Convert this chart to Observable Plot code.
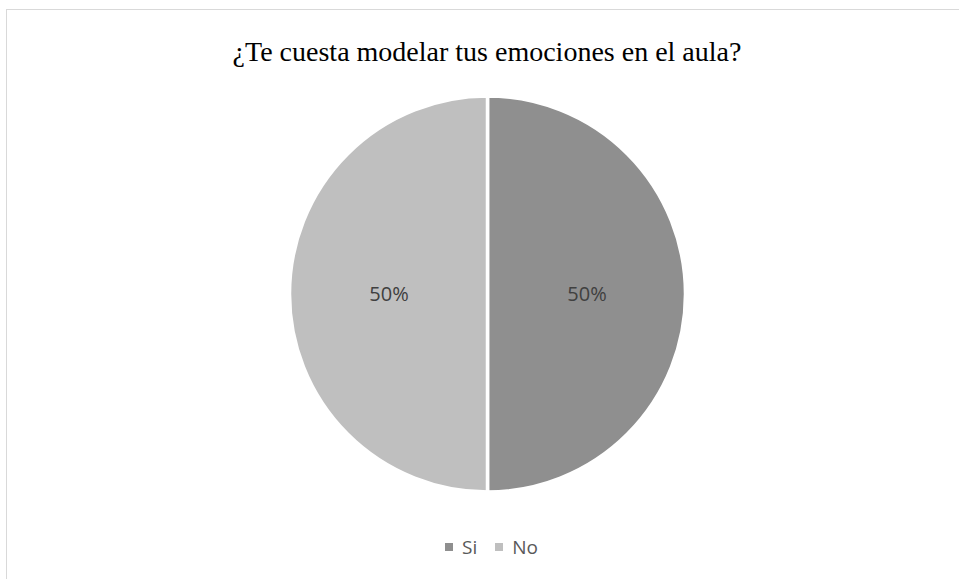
<!DOCTYPE html>
<html>
<head>
<meta charset="utf-8">
<script src="https://cdn.jsdelivr.net/npm/d3@7"></script>
<script src="https://cdn.jsdelivr.net/npm/@observablehq/plot@0.6"></script>
<style>
  html, body { margin: 0; padding: 0; background: #fff; }
  #wrap { position: relative; width: 959px; height: 579px; overflow: hidden; }
  #frame { position: absolute; left: 6px; top: 9px; width: 1000px; height: 1000px; border: 1px solid #d9d9d9; box-sizing: border-box; }
  #chart { position: absolute; left: 0; top: 0; }
  #legend { position: absolute; left: 12px; width: 959px; top: 531px; text-align: center; font-family: "Open Sans", sans-serif; font-size: 19px; color: #595959; }
  #legend .item { display: inline-flex; align-items: center; margin: 0 9px; }
  #legend .sw { display: inline-block; width: 8px; height: 8px; margin-right: 9px; }
</style>
</head>
<body>
<div id="wrap">
  <div id="frame"></div>
  <div id="chart"></div>
  <div id="legend"></div>
</div>
<script>
const title = "¿Te cuesta modelar tus emociones en el aula?";
const categories = ["Si", "No"];
const values = [50, 50];
const colors = ["#8f8f8f", "#bfbfbf"];

const total = d3.sum(values);
const arcs = d3.pie().sort(null).value(d => d.value)(categories.map((c, i) => ({category: c, value: values[i]})));
const labelArc = d3.arc().innerRadius(0).outerRadius(1);
const labels = arcs.map(a => {
  const [cx, cy] = labelArc.centroid(a);
  return {x: cx, y: -cy, text: Math.round(a.data.value / total * 100) + "%"};
});

const W = 959, H = 579, CX = 487.5, CY = 294, R = 198;

function pieMark(index, scales) {
  const x0 = scales.x(0), y0 = scales.y(0);
  const r = scales.x(1) - x0;
  const arc = d3.arc().innerRadius(0).outerRadius(r);
  const g = d3.create("svg:g").attr("transform", `translate(${x0},${y0})`);
  g.selectAll("path").data(arcs).join("path")
    .attr("d", arc)
    .attr("fill", (d, i) => colors[i])
    .attr("stroke", "#fff")
    .attr("stroke-width", 3.5)
    .attr("stroke-linejoin", "round");
  return g.node();
}

const plot = Plot.plot({
  width: W,
  height: H,
  margin: 0,
  x: {type: "linear", domain: [-1, 1], range: [CX - R, CX + R], axis: null},
  y: {type: "linear", domain: [-1, 1], range: [CY + R, CY - R], axis: null},
  style: {background: "transparent"},
  marks: [
    pieMark,
    Plot.text(labels, {x: "x", y: "y", text: "text", fill: "#404040", fontSize: 20, fontFamily: "Open Sans, sans-serif"}),
    Plot.text([title], {frameAnchor: "top", dx: 7, dy: 41, text: d => d, fontSize: 28, fill: "#000", fontFamily: "Liberation Serif, Times New Roman, serif"})
  ]
});
document.getElementById("chart").appendChild(plot);

const legend = document.getElementById("legend");
categories.forEach((c, i) => {
  const item = document.createElement("span");
  item.className = "item";
  const sw = document.createElement("span");
  sw.className = "sw";
  sw.style.background = colors[i];
  item.appendChild(sw);
  item.appendChild(document.createTextNode(c));
  legend.appendChild(item);
});
</script>
</body>
</html>
